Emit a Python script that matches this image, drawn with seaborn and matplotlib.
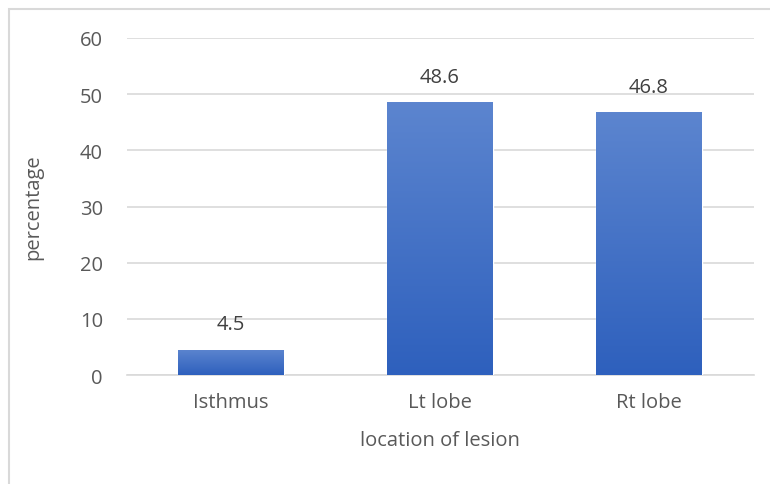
import matplotlib
matplotlib.use("Agg")
import matplotlib.pyplot as plt
import matplotlib.patheffects as pe
from matplotlib.patches import Rectangle
from matplotlib.colors import LinearSegmentedColormap
import numpy as np
import pandas as pd
import seaborn as sns

# Lesion location distribution
locations = ["Isthmus", "Lt lobe", "Rt lobe"]
percentages = [4.5, 48.6, 46.8]
y_ticks = [0, 10, 20, 30, 40, 50, 60]

df = pd.DataFrame({"location": locations, "percentage": percentages})

sns.set_theme(style="white")
plt.rcParams["font.family"] = ["Open Sans", "DejaVu Sans"]

text_color = "#595959"
label_color = "#404040"
grid_color = "#D9D9D9"
fs = 14.5

fig = plt.figure(figsize=(7.7, 4.85), dpi=100)
ax = fig.add_axes([126.5 / 770, 1 - 376 / 485, 627 / 770, 337 / 485])

sns.barplot(data=df, x="location", y="percentage", color="#4472C4",
            width=0.507, ax=ax, zorder=3, saturation=1)

ax.set_ylim(0, 60)
ax.set_yticks(y_ticks)
ax.set_xlim(-0.5, len(locations) - 0.5)
ax.yaxis.grid(True, color=grid_color, linewidth=1.2, zorder=0)
ax.set_axisbelow(True)
for side in ["left", "right", "top"]:
    ax.spines[side].set_visible(False)
ax.spines["bottom"].set_color(grid_color)
ax.spines["bottom"].set_linewidth(1.2)
ax.tick_params(axis="both", length=0, labelsize=fs, labelcolor=text_color)
ax.tick_params(axis="y", pad=17)
ax.tick_params(axis="x", pad=12)

ax.set_xlabel("location of lesion", fontsize=fs, color=text_color, va="center")
ax.set_ylabel("percentage", fontsize=fs, color=text_color, va="center")
ax.xaxis.set_label_coords(0.5, (376 - 441) / 337)
ax.yaxis.set_label_coords((33 - 126.5) / 627, 0.5)

# Vertical gradient fill with a soft drop shadow on each bar
cmap = LinearSegmentedColormap.from_list("bar_grad", ["#2E60BD", "#5C85CF"])
grad = np.linspace(0, 1, 256).reshape(-1, 1)
for bar in ax.patches:
    bar.set_path_effects([pe.SimplePatchShadow(offset=(1, -1), shadow_rgbFace="#000000", alpha=0.10),
                          pe.Normal()])
    x0, y0 = bar.get_x(), bar.get_y()
    w, h = bar.get_width(), bar.get_height()
    img = ax.imshow(grad, cmap=cmap, origin="lower", aspect="auto",
                    extent=(x0, x0 + w, y0, y0 + h), zorder=4)
    img.set_clip_path(bar)

ax.bar_label(ax.containers[0], labels=[f"{v:.1f}" for v in percentages],
             padding=11, fontsize=fs, color=label_color)
ax.set_xlim(-0.5, len(locations) - 0.5)
ax.set_ylim(0, 60)

# Chart-area border
fig.patches.append(Rectangle((9 / 770, -0.05), 1.05, 1 - 10 / 485 + 0.05,
                             transform=fig.transFigure, fill=False,
                             edgecolor=grid_color, linewidth=1.5))

fig.savefig("out.png", dpi=100, facecolor="white")
